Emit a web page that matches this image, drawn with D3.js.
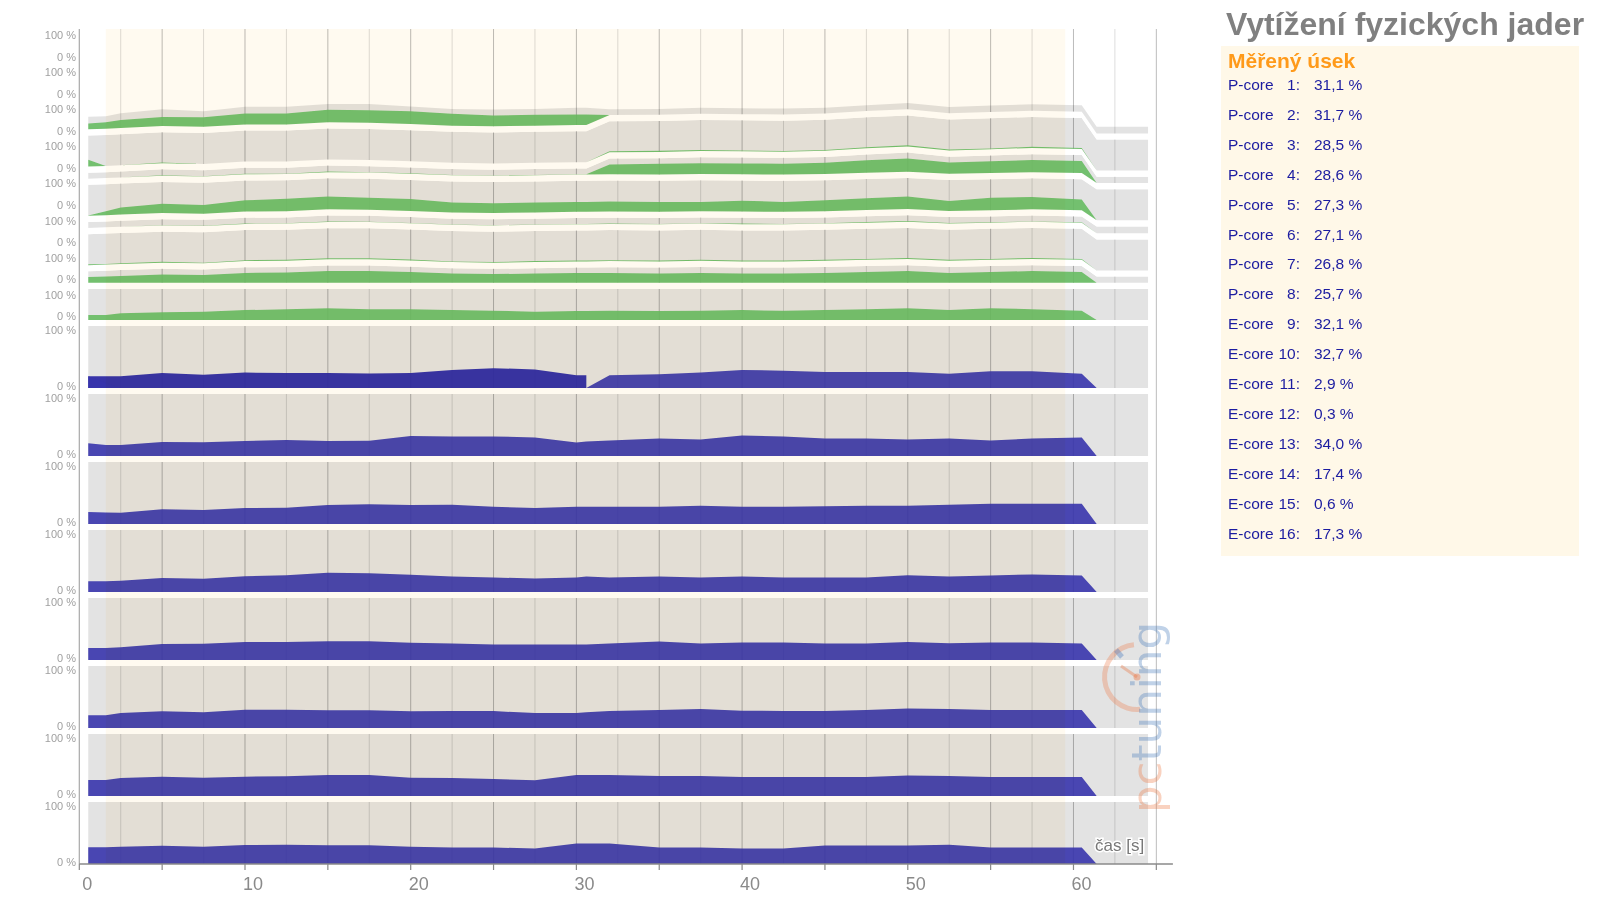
<!DOCTYPE html>
<html><head><meta charset="utf-8">
<script src="https://cdn.jsdelivr.net/npm/d3@7"></script>
<style>
html,body{margin:0;padding:0;background:#fff;}
svg{display:block;font-family:"Liberation Sans",Arial,Helvetica,sans-serif;}
</style></head><body>
<svg id="c" width="1599" height="897"></svg>
<script>
// ---------- DATA ----------
const times = [0.54, 1.6, 2.5, 5, 7.5, 10, 12.5, 15, 17.5, 20, 22.5, 25, 27.5, 30, 30.6, 32, 35, 37.5, 40, 42.5, 45, 47.5, 50, 52.5, 55, 57.5, 60.5, 61.4, 64.5];

// P-cores (stack units: 100 = one full panel)
const p1Used = [19,21,26,29,31,35,35,40,41,41,38,35,35,34,34,0,0,0,0,0,0,0,0,0,0,0,0,0,0];
const p1Rest = [22,19,22,25,19,22,22,19,20,16,16,19,19,22,22,19,19,20,19,19,19,19,20,20,21,21,21,21,21];
const p2Used = [22,0,0,2,0,0,0,0,0,0,0,0,0,0,0,3,4,3,3,2,2,3,4,3,2,4,3,0,0];
const p3Used = [0,0,0,2,1,2,1,2,1,1,1,1,1,1,1,32,35,35,35,35,36,40,43,36,38,39,39,0,0];
const p3Rest = [19,19,19,19,19,19,19,19,19,19,19,19,19,19,19,19,18,19,19,19,19,19,19,19,19,19,19,20,20];
const p4Used = [1,13,23,30,28,36,40,41,38,38,32,32,32,32,32,32,32,30,35,32,35,38,40,32,40,40,35,0,0];
const p5Used = [0,0,0,1,1,1,1,2,1,1,1,1,1,1,1,1,1,1,2,1,1,2,2,2,1,1,1,0,0];
const p5Rest = [19,19,19,19,19,19,19,19,19,19,19,19,19,19,19,19,19,19,19,19,19,19,19,19,19,19,19,22,22];
const p6Used = [3,2,2,3,2,3,3,3,3,3,2,2,3,3,3,3,3,3,3,3,3,3,3,3,3,3,3,0,0];
const p7Used = [19,20,22,27,25,32,33,38,38,35,30,28,30,32,32,32,30,32,30,30,32,35,38,32,35,38,35,0,0];
const p7Rest = [18,19,19,18,18,18,18,18,18,17,17,17,17,17,17,18,19,19,19,19,19,19,19,19,19,19,19,20,20];
const p8Used = [16,16,22,25,27,32,35,38,35,35,32,30,27,29,29,30,29,30,32,30,32,35,38,32,38,35,30,0,0];
const pGap = 20;

// E-cores (percent)
const e9a = [19,19,19,24,21.5,25,24,24,23.5,24,29,32,30,20.5,20.5,null,null,null,null,null,null,null,null,null,null,null,null,null,null];
const e9b = [19,8,0,0,0,0,0,0,0,0,0,0,0,0,0,20.5,22,25,29,28,26,26,26,23,27,27,23,0,0];
const e10 = [20.5,17.7,17.7,22.6,22,24.2,25.8,24.2,24.7,32.3,31.5,31.5,30,21.6,23.3,24.9,28.2,26.6,33,31.5,28.2,28.2,26.6,28.2,24.9,28.2,29.8,0,0];
const e11 = [19.4,18.5,18.3,23.7,22.6,25.8,26.3,30.6,31.7,30.6,31,27.7,26,27.7,27.7,27.7,27.7,29.4,27.7,27.7,28.5,29.4,29.4,31,32.6,32.6,32.6,0,0];
const e12 = [17.2,17.5,18.3,22.6,21.5,25.3,26.9,31.2,30.1,28,25,23.4,21.8,23.4,25,23.4,25,23.4,25,23.4,23.4,23.4,27,25,26.6,28.4,26.6,0,0];
const e13 = [19.4,19.4,20.4,25.8,26.3,29,29,30.1,30.1,28,26.6,25,25,25,25,26.6,29.8,26.6,28.2,28.2,26.6,26.6,29,27,28.2,28.2,26.6,0,0];
const e14 = [20.5,20.5,24.2,26.9,25.3,29.6,29.6,28.5,28.5,26.9,27.3,27.3,24,24,25.6,27.3,29,30.6,28,27.3,27.3,29,31.5,30.6,29,29,29,0,0];
const e15 = [25.8,25.8,29,31,29.6,31.2,31.7,33.9,33.9,29.6,28.9,27.3,25.6,33.8,33.8,33.8,32.2,32.2,30.5,30.5,30.5,30.5,33,32.2,30.5,30.5,30.5,0,0];
const e16 = [26.9,26.9,28,29.6,28,30.6,31.2,30.1,30.1,28,26.6,26.6,25,33.2,33.2,33.2,26.6,26.6,25,25,30,30,30,31,26.6,26.6,26.6,0,0];

const measured = [1.6, 59.5];
const xTickValues = [0,5,10,15,20,25,30,35,40,45,50,55,60,65];
const xTickLabels = ["0","10","20","30","40","50","60"];
const legendNames = ["P-core","P-core","P-core","P-core","P-core","P-core","P-core","P-core","E-core","E-core","E-core","E-core","E-core","E-core","E-core","E-core"];
const legendNums = ["1:","2:","3:","4:","5:","6:","7:","8:","9:","10:","11:","12:","13:","14:","15:","16:"];
const legendValues = ["31,1 %","31,7 %","28,5 %","28,6 %","27,3 %","27,1 %","26,8 %","25,7 %","32,1 %","32,7 %","2,9 %","0,3 %","34,0 %","17,4 %","0,6 %","17,3 %"];
const titleText = "Vytížení fyzických jader";
const legendTitle = "Měřený úsek";
const axisTitle = "čas [s]";

// ---------- DRAW ----------
const svg = d3.select("#c");
const x = d3.scaleLinear().domain([0, 66]).range([79.3, 1172.9]);
const yTop = 29, yBot = 864;
const GREEN = "rgb(100,185,95)", BLUE = "rgb(55,52,172)", DARKBLUE = "rgb(46,42,165)";
const GREY_OP = 0.11;

// gridlines
const grid = svg.append("g");
d3.range(2.5, 65.01, 2.5).forEach(t => {
  grid.append("line").attr("x1", x(t)).attr("x2", x(t)).attr("y1", yTop).attr("y2", yBot)
    .attr("stroke", (t % 5 === 0) ? "#bcbcbc" : "#dddddd").attr("stroke-width", 1);
});

// P stack (bottom -> top: P8 ... P1)
const pCores = [
  {used: p8Used, rest: null}, {used: p7Used, rest: p7Rest},
  {used: p6Used, rest: null}, {used: p5Used, rest: p5Rest},
  {used: p4Used, rest: null}, {used: p3Used, rest: p3Rest},
  {used: p2Used, rest: null}, {used: p1Used, rest: p1Rest}
];
const keys = [];
pCores.forEach((c, j) => { keys.push("u"+j, "r"+j); if (j < pCores.length-1) keys.push("g"+j); });
const rows = times.map((t, i) => {
  const r = {t};
  pCores.forEach((c, j) => {
    r["u"+j] = c.used[i];
    r["r"+j] = c.rest ? c.rest[i] : 100 - c.used[i];
    if (j < pCores.length-1) r["g"+j] = pGap;
  });
  return r;
});
const stacked = d3.stack().keys(keys)(rows);
const yP = d3.scaleLinear().domain([0, 100]).range([320, 289]);
const pArea = d3.area().x(d => x(d.data.t)).y0(d => yP(d[0])).y1(d => yP(d[1]));
const pg = svg.append("g");
stacked.forEach(s => {
  const k = s.key[0];
  const p = pg.append("path").attr("d", pArea(s));
  if (k === "u") p.attr("fill", GREEN).attr("fill-opacity", 0.9);
  else if (k === "r") p.attr("fill", "#000").attr("fill-opacity", GREY_OP);
  else p.attr("fill", "#fff");
});

// E panels
const eSeries = [[e9a, e9b], [e10], [e11], [e12], [e13], [e14], [e15], [e16]];
const eg = svg.append("g");
const x0 = x(times[0]), x1 = x(times[times.length-1]);
eSeries.forEach((ser, k) => {
  const top = 326 + 68*k, bot = top + 62;
  eg.append("rect").attr("x", x0).attr("width", x1-x0).attr("y", top-6).attr("height", 6).attr("fill", "#fff");
  eg.append("rect").attr("x", x0).attr("width", x1-x0).attr("y", top).attr("height", 62)
    .attr("fill", "#000").attr("fill-opacity", GREY_OP);
  const yE = d3.scaleLinear().domain([0, 100]).range([bot, top]);
  const area = d3.area().defined(d => d.v != null).x(d => x(d.t)).y0(bot).y1(d => yE(d.v));
  ser.forEach((vals, si) => {
    const data = times.map((t, i) => ({t, v: vals[i]}));
    const dark = (ser.length > 1 && si === 0);
    eg.append("path").attr("d", area(data))
      .attr("fill", dark ? DARKBLUE : BLUE).attr("fill-opacity", dark ? 0.95 : 0.9);
  });
});

// measured-section band
svg.append("rect").attr("x", x(measured[0])).attr("width", x(measured[1]) - x(measured[0]))
  .attr("y", yTop).attr("height", yBot - yTop).attr("fill", "#fffaf0")
  .style("mix-blend-mode", "multiply");

// axes
svg.append("line").attr("x1", x(0)).attr("x2", x(0)).attr("y1", yTop).attr("y2", yBot)
  .attr("stroke", "#a8a8a8").attr("stroke-width", 1.2);
svg.append("line").attr("x1", x(0)).attr("x2", x(66)).attr("y1", yBot).attr("y2", yBot)
  .attr("stroke", "#8a8a8a").attr("stroke-width", 1.3);
xTickValues.forEach(t => {
  svg.append("line").attr("x1", x(t)).attr("x2", x(t)).attr("y1", yBot).attr("y2", yBot+6)
    .attr("stroke", "#8a8a8a").attr("stroke-width", 1.2);
});
xTickLabels.forEach(l => {
  svg.append("text").attr("x", x(+l) + 8).attr("y", 890).attr("text-anchor", "middle")
    .attr("font-size", 18).attr("fill", "#8a8a8a").text(l);
});

// y labels
const yl = svg.append("g").attr("font-size", 11).attr("fill", "#a0a0a0").attr("text-anchor", "end");
for (let k = 0; k < 8; k++) {
  yl.append("text").attr("x", 76).attr("y", 35 + 37.1*k + 4).text("100 %");
  yl.append("text").attr("x", 76).attr("y", 56.7 + 37.1*k + 4).text("0 %");
}
for (let k = 0; k < 8; k++) {
  yl.append("text").attr("x", 76).attr("y", 330 + 68*k + 4).text("100 %");
  yl.append("text").attr("x", 76).attr("y", 386 + 68*k + 4).text("0 %");
}

// watermark
const wm = svg.append("g");
wm.append("path").attr("transform", "translate(1137,677)")
  .attr("d", d3.arc().innerRadius(30).outerRadius(35).startAngle(Math.PI*0.97).endAngle(Math.PI*1.97)())
  .attr("fill", "rgba(235,120,70,0.32)");
wm.append("line").attr("x1", 1137).attr("y1", 677).attr("x2", 1121).attr("y2", 666)
  .attr("stroke", "rgba(235,120,70,0.38)").attr("stroke-width", 3);
wm.append("circle").attr("cx", 1137).attr("cy", 677).attr("r", 3.5).attr("fill", "rgba(235,120,70,0.42)");
wm.append("line").attr("x1", 1116).attr("y1", 650).attr("x2", 1122).attr("y2", 657)
  .attr("stroke", "rgba(70,120,190,0.38)").attr("stroke-width", 5);
const wt = wm.append("text").attr("transform", "translate(1161,813) rotate(-90)")
  .attr("font-size", 40).attr("font-family", "DejaVu Sans, sans-serif")
  .attr("textLength", 191).attr("lengthAdjust", "spacingAndGlyphs");
wt.append("tspan").attr("fill", "rgba(235,115,60,0.32)").text("pc");
wt.append("tspan").attr("fill", "rgba(60,115,185,0.32)").text("tuning");

svg.append("text").attr("x", 1095).attr("y", 851).attr("font-size", 17).attr("fill", "#777")
  .attr("stroke", "#fff").attr("stroke-width", 3).attr("paint-order", "stroke").text(axisTitle);

// title & legend
svg.append("text").attr("x", 1226).attr("y", 35).attr("font-size", 32).attr("font-weight", "bold")
  .attr("fill", "#808080").text(titleText);
svg.append("rect").attr("x", 1221).attr("y", 46).attr("width", 358).attr("height", 510).attr("fill", "#fff8e8");
svg.append("text").attr("x", 1228).attr("y", 68).attr("font-size", 21).attr("font-weight", "bold")
  .attr("fill", "#ff9a1a").text(legendTitle);
const lg = svg.append("g").attr("font-size", 15.5).attr("fill", "#1c1ca0");
legendNames.forEach((n, i) => {
  const y = 90 + 29.9*i;
  lg.append("text").attr("x", 1228).attr("y", y).text(n);
  lg.append("text").attr("x", 1300).attr("y", y).attr("text-anchor", "end").text(legendNums[i]);
  lg.append("text").attr("x", 1314).attr("y", y).text(legendValues[i]);
});
</script></body></html>
